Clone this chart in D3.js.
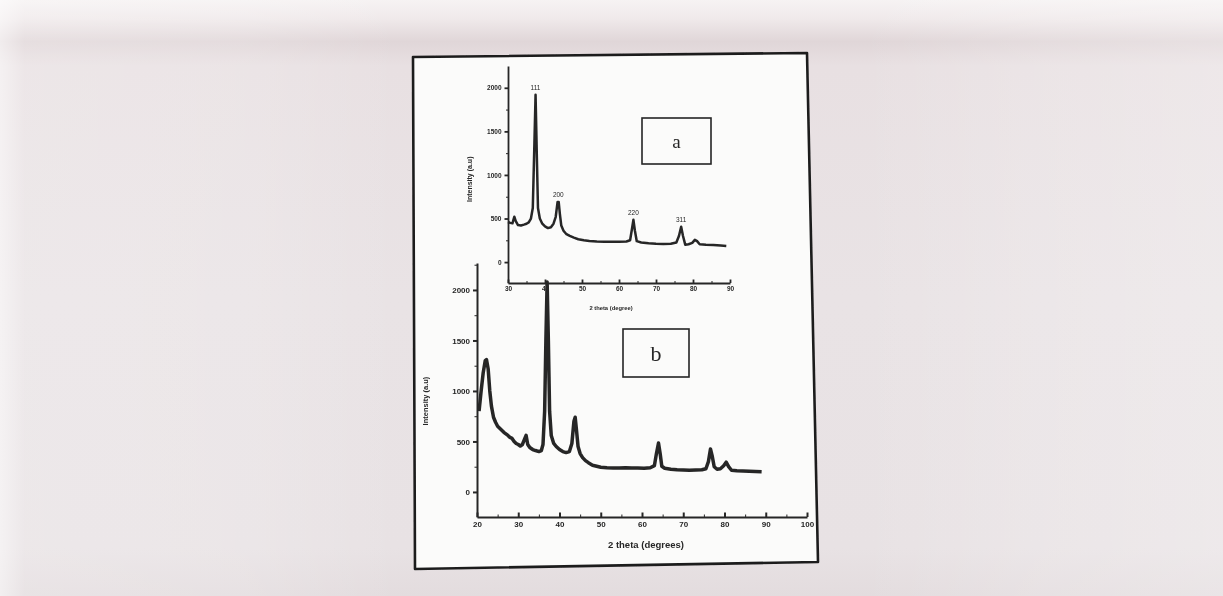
<!DOCTYPE html>
<html>
<head>
<meta charset="utf-8">
<script src="https://cdn.jsdelivr.net/npm/d3@7/dist/d3.min.js"></script>
<style>
  html, body { margin: 0; padding: 0; background: #ebe5e7; }
  svg { display: block; }
  .tick text { font-family: "Liberation Sans", Arial, sans-serif; font-weight: bold; fill: #262626; }
  .domain, .tick line { stroke: #262626; }
</style>
</head>
<body>
<svg id="chart" width="1223" height="596"></svg>
<script>
// XRD pattern of the film (a, inset) and of the powder on substrate (b)

// ---- panel a (inset) ----
const aTheta  = [30.0, 30.6, 31.2, 31.7, 32.1, 32.7, 33.5, 34.3, 35.0, 35.6, 36.2, 36.7, 37.1, 37.45, 37.8, 38.1, 38.6, 39.2, 40.0, 40.8, 41.6, 42.3, 42.9, 43.4, 43.7, 44.0, 44.4, 45.0, 45.8, 46.7, 47.8, 49.0, 50.5, 52.0, 54.0, 56.0, 58.0, 60.0, 62.0, 63.0, 63.5, 63.9, 64.3, 64.8, 66.0, 68.0, 70.0, 72.0, 74.0, 75.5, 76.2, 76.8, 77.3, 77.9, 78.8, 79.8, 80.5, 81.1, 81.8, 83.5, 85.5, 87.5, 89.0];
const aCounts = [460, 450, 445, 520, 470, 425, 420, 430, 440, 455, 500, 620, 1300, 1920, 1200, 620, 500, 445, 410, 390, 400, 440, 520, 690, 690, 560, 420, 360, 320, 300, 280, 262, 250, 242, 236, 234, 233, 234, 236, 250, 380, 485, 360, 240, 225, 215, 210, 207, 210, 225, 300, 405, 300, 200, 205, 220, 255, 240, 205, 200, 196, 190, 185];
const aPeakHkl   = ["111", "200", "220", "311"];
const aPeakTheta = [37.45, 43.6, 63.9, 76.8];
const aPeakCount = [1920, 690, 485, 405];
const aXTicks = [30, 40, 50, 60, 70, 80, 90];
const aYTicks = [0, 500, 1000, 1500, 2000];

// ---- panel b ----
const bTheta  = [20.5, 21.0, 21.5, 22.0, 22.3, 22.7, 23.1, 23.5, 24.0, 24.5, 25.0, 25.5, 26.0, 26.5, 27.0, 27.5, 28.0, 28.5, 29.0, 29.5, 30.0, 30.5, 31.0, 31.5, 31.9, 32.3, 32.8, 33.5, 34.2, 35.0, 35.6, 36.0, 36.4, 36.7, 37.0, 37.3, 37.6, 38.0, 38.6, 39.2, 40.0, 40.8, 41.6, 42.4, 43.0, 43.5, 43.8, 44.1, 44.5, 45.0, 45.6, 46.3, 47.0, 48.0, 49.0, 50.0, 51.5, 53.0, 54.5, 56.0, 57.5, 59.0, 60.5, 62.0, 63.0, 63.5, 64.0, 64.4, 64.8, 65.5, 67.0, 68.5, 70.0, 71.5, 73.0, 74.5, 75.5, 76.1, 76.6, 77.0, 77.5, 78.2, 79.0, 79.8, 80.4, 81.0, 81.7, 83.0, 84.5, 86.0, 87.5, 89.0];
const bCounts = [800, 1000, 1180, 1300, 1310, 1220, 1000, 850, 740, 690, 650, 630, 610, 590, 575, 560, 540, 530, 500, 480, 470, 455, 470, 520, 560, 470, 440, 420, 410, 400, 410, 470, 800, 1500, 2080, 1500, 800, 560, 480, 450, 420, 400, 390, 400, 480, 700, 740, 620, 450, 380, 340, 310, 290, 265, 255, 245, 240, 238, 236, 240, 236, 238, 235, 240, 260, 380, 485, 380, 255, 235, 225, 220, 218, 215, 218, 220, 230, 300, 425, 360, 250, 225, 230, 260, 295, 250, 215, 210, 208, 205, 203, 200];
const bXTicks = [20, 30, 40, 50, 60, 70, 80, 90, 100];
const bYTicks = [0, 500, 1000, 1500, 2000];

const svg = d3.select("#chart");
const ink = "#262626";
const plain = d3.format("d");

// ---- scanned page background ----
const defs = svg.append("defs");
const bgGrad = defs.append("linearGradient").attr("id", "bgV").attr("x1", 0).attr("y1", 0).attr("x2", 0).attr("y2", 1);
[[0, "#f6f3f3"], [0.03, "#f0eaeb"], [0.07, "#e0d6d8"], [0.11, "#e8e0e2"], [0.5, "#e9e3e5"], [0.92, "#e8e2e4"], [1, "#e3dcde"]]
  .forEach(([o, c]) => bgGrad.append("stop").attr("offset", o).attr("stop-color", c));
const sideGrad = defs.append("linearGradient").attr("id", "bgH").attr("x1", 0).attr("y1", 0).attr("x2", 1).attr("y2", 0);
[[0, "#ffffff", 0.55], [0.02, "#ffffff", 0.2], [0.2, "#ffffff", 0.15], [0.33, "#ffffff", 0], [0.7, "#ffffff", 0], [0.85, "#ffffff", 0.15], [1, "#ffffff", 0.25]]
  .forEach(([o, c, a]) => sideGrad.append("stop").attr("offset", o).attr("stop-color", c).attr("stop-opacity", a));
const soft = defs.append("filter").attr("id", "soft").attr("x", "-5%").attr("y", "-5%").attr("width", "110%").attr("height", "110%");
soft.append("feGaussianBlur").attr("stdDeviation", 0.55);

svg.append("rect").attr("width", 1223).attr("height", 596).attr("fill", "url(#bgV)");
svg.append("rect").attr("width", 1223).attr("height", 596).attr("fill", "url(#bgH)");

const content = svg.append("g").attr("filter", "url(#soft)");

// paper sheet with its black frame
const sheet = [[413, 57], [807, 53], [818, 562], [415, 569]];
content.append("path")
  .attr("d", d3.line()(sheet) + "Z")
  .attr("fill", "#fbfbfa")
  .attr("stroke", "#1e1e1e")
  .attr("stroke-width", 2.6)
  .attr("stroke-linejoin", "round");

// ---- scales ----
const ax = d3.scaleLinear().domain([30, 90]).range([508, 730]);
const ay = d3.scaleLinear().domain([-240, 2250]).range([283, 66]);
const bx = d3.scaleLinear().domain([20, 100]).range([477, 807]);
const by = d3.scaleLinear().domain([-248, 2267]).range([517, 263]);

// ---- panel b (drawn first, inset sits over it) ----
const gB = content.append("g");
gB.append("path")
  .datum(d3.zip(bTheta, bCounts))
  .attr("d", d3.line().x(d => bx(d[0])).y(d => by(d[1])))
  .attr("fill", "none").attr("stroke", ink).attr("stroke-width", 3.5).attr("stroke-linejoin", "round");

const bMinorX = d3.range(25, 100, 10);
gB.append("g").attr("transform", `translate(0,${by(-248)})`)
  .call(d3.axisBottom(bx).tickValues(bMinorX).tickSize(-2.5).tickFormat(""))
  .call(g => g.select(".domain").remove());
gB.append("g").attr("transform", `translate(0,${by(-248)})`)
  .call(d3.axisBottom(bx).tickValues(bXTicks).tickSize(-4.5).tickPadding(4).tickSizeOuter(0).tickFormat(plain))
  .call(g => g.selectAll(".tick text").attr("font-size", 8))
  .call(g => g.selectAll(".domain, .tick line").attr("stroke-width", 2));

const bMinorY = [250, 750, 1250, 1750, 2250];
gB.append("g").attr("transform", `translate(${bx(20)},0)`)
  .call(d3.axisLeft(by).tickValues(bMinorY).tickSize(2.5).tickFormat(""))
  .call(g => g.select(".domain").remove());
gB.append("g").attr("transform", `translate(${bx(20)},0)`)
  .call(d3.axisLeft(by).tickValues(bYTicks).tickSize(4).tickPadding(3).tickSizeOuter(0).tickFormat(plain))
  .call(g => g.selectAll(".tick text").attr("font-size", 8))
  .call(g => g.selectAll(".domain, .tick line").attr("stroke-width", 2));

gB.append("text")
  .attr("x", (bx(20) + bx(100)) / 2 + 4).attr("y", 548)
  .attr("text-anchor", "middle")
  .attr("font-family", "Liberation Sans, Arial, sans-serif").attr("font-weight", "bold")
  .attr("font-size", 9.5).attr("fill", ink)
  .text("2 theta (degrees)");
gB.append("text")
  .attr("transform", `translate(428,${by(900)}) rotate(-90)`)
  .attr("text-anchor", "middle")
  .attr("font-family", "Liberation Sans, Arial, sans-serif").attr("font-weight", "bold")
  .attr("font-size", 7.5).attr("fill", ink)
  .text("Intensity (a.u)");

// ---- panel a (inset) ----
const gA = content.append("g");
gA.append("path")
  .datum(d3.zip(aTheta, aCounts))
  .attr("d", d3.line().x(d => ax(d[0])).y(d => ay(d[1])))
  .attr("fill", "none").attr("stroke", ink).attr("stroke-width", 2.5).attr("stroke-linejoin", "round");

gA.append("g").attr("transform", `translate(0,${ay(-240)})`)
  .call(d3.axisBottom(ax).tickValues(d3.range(35, 90, 10)).tickSize(-2).tickFormat(""))
  .call(g => g.select(".domain").remove());
gA.append("g").attr("transform", `translate(0,${ay(-240)})`)
  .call(d3.axisBottom(ax).tickValues(aXTicks).tickSize(-3.5).tickPadding(3).tickSizeOuter(0).tickFormat(plain))
  .call(g => g.selectAll(".tick text").attr("font-size", 6.5))
  .call(g => g.selectAll(".domain, .tick line").attr("stroke-width", 1.8));

gA.append("g").attr("transform", `translate(${ax(30)},0)`)
  .call(d3.axisLeft(ay).tickValues([250, 750, 1250, 1750]).tickSize(2).tickFormat(""))
  .call(g => g.select(".domain").remove());
gA.append("g").attr("transform", `translate(${ax(30)},0)`)
  .call(d3.axisLeft(ay).tickValues(aYTicks).tickSize(3.5).tickPadding(3).tickSizeOuter(0).tickFormat(plain))
  .call(g => g.selectAll(".tick text").attr("font-size", 6.5))
  .call(g => g.selectAll(".domain, .tick line").attr("stroke-width", 1.8));

gA.append("text")
  .attr("x", (ax(30) + ax(90)) / 2 - 8).attr("y", 310)
  .attr("text-anchor", "middle")
  .attr("font-family", "Liberation Sans, Arial, sans-serif").attr("font-weight", "bold")
  .attr("font-size", 5.8).attr("fill", ink)
  .text("2 theta (degree)");
gA.append("text")
  .attr("transform", `translate(472,${ay(950)}) rotate(-90)`)
  .attr("text-anchor", "middle")
  .attr("font-family", "Liberation Sans, Arial, sans-serif").attr("font-weight", "bold")
  .attr("font-size", 7).attr("fill", ink)
  .text("Intensity (a.u)");

// Miller indices over the reflections
gA.selectAll("text.hkl")
  .data(d3.zip(aPeakHkl, aPeakTheta, aPeakCount))
  .join("text").attr("class", "hkl")
  .attr("x", d => ax(d[1]))
  .attr("y", d => ay(d[2]) - 5)
  .attr("text-anchor", "middle")
  .attr("font-family", "Liberation Sans, Arial, sans-serif")
  .attr("font-size", 6.5).attr("fill", ink)
  .text(d => d[0]);

// ---- sample tags ----
function tag(x0, y0, w, h, letter, size) {
  content.append("rect").attr("x", x0).attr("y", y0).attr("width", w).attr("height", h)
    .attr("fill", "none").attr("stroke", ink).attr("stroke-width", 1.6);
  content.append("text").attr("x", x0 + w / 2).attr("y", y0 + h / 2)
    .attr("dy", "0.35em").attr("text-anchor", "middle")
    .attr("font-family", "Liberation Serif, Times New Roman, serif")
    .attr("font-size", size).attr("fill", ink)
    .text(letter);
}
tag(642, 118, 69, 46, "a", 19);
tag(623, 329, 66, 48, "b", 22);
</script>
</body>
</html>
